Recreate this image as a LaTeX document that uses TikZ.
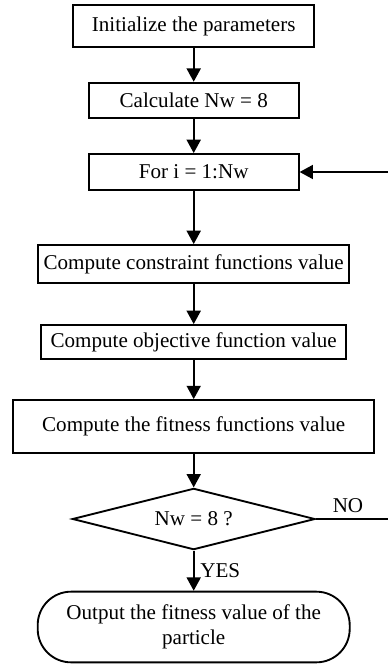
\documentclass[tikz,border=0pt]{standalone}
\usepackage{fontspec}
\setmainfont{Liberation Serif}
\usepackage{tikz}
\usetikzlibrary{arrows.meta,shapes.geometric}

\begin{document}
\begin{tikzpicture}[x=0.75pt,y=-0.75pt,line width=1.4pt,
  font=\fontsize{15.8}{18.5}\selectfont,
  >={Triangle[length=10pt,width=10.5pt]},
  proc/.style={draw,rectangle,inner sep=0pt},
  test/.style={draw,diamond,aspect=4,inner sep=0pt,minimum width=182pt,minimum height=46pt},
  term/.style={draw,rectangle,rounded corners=25pt,inner sep=0pt,align=center,minimum width=234pt,minimum height=53pt}]
\useasboundingbox (0,0) rectangle (388,666);
\node[proc,minimum width=181pt,minimum height=31.5pt] (init) at (193.7,26) {Initialize the parameters};
\node[proc,minimum width=157.5pt,minimum height=26.7pt] (calc) at (193.7,100.5) {Calculate Nw = 8};
\node[proc,minimum width=157.5pt,minimum height=27pt] (loop) at (193.7,172) {For i = 1:Nw};
\node[proc,minimum width=233pt,minimum height=28.5pt] (cons) at (193.7,264) {Compute constraint functions value};
\node[proc,minimum width=229pt,minimum height=25.5pt] (obj) at (193.7,342) {Compute objective function value};
\node[proc,minimum width=271pt,minimum height=40pt] (fit) at (193.7,426.7) {Compute the fitness functions value};
\node[test] (check) at (193.7,519) {Nw = 8 ?};
\node[term] (out) at (193.7,627) {Output the fitness value of the\\particle};
\coordinate (noend) at (388,519);
\coordinate (back) at (388,172);
% main flow
\foreach \a/\b in {init/calc,calc/loop,loop/cons,cons/obj,obj/fit,fit/check}
  \draw[->] (\a.south) -- (\b.north);
\draw[->] (check.south) -- node[right,xshift=1pt]{YES} (out.north);
\draw (check.east) -- node[above,xshift=-3pt,yshift=1pt]{NO} (noend);
\draw[->] (back) -- (loop.east);
\end{tikzpicture}
\end{document}
